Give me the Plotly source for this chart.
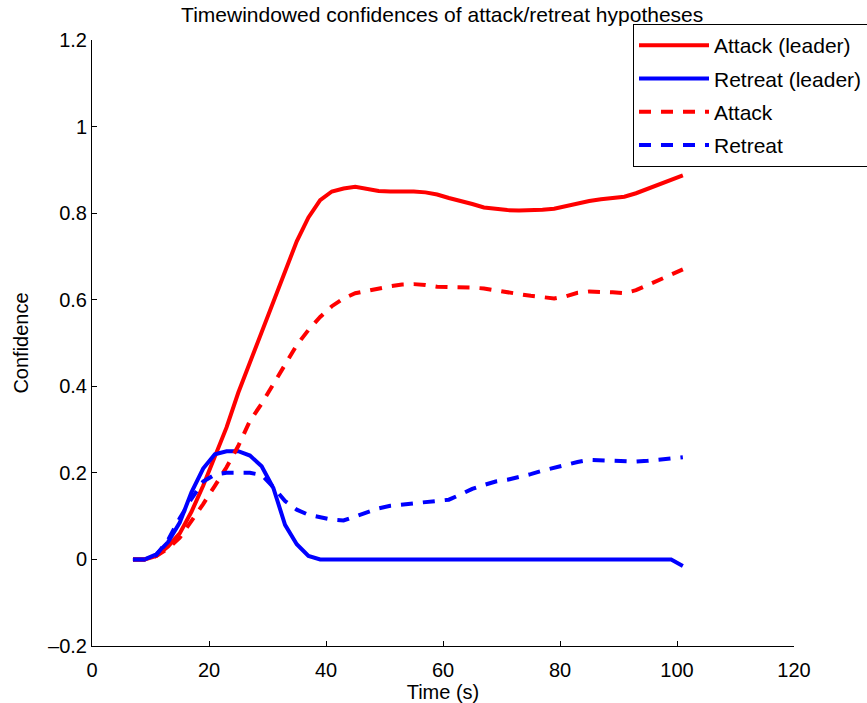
import plotly.graph_objects as go

time_s = [7, 9, 11, 13, 15, 17, 19, 21, 23, 25, 27, 29, 31, 33, 35, 37, 39, 41, 43, 45,
          47, 49, 51, 53, 55, 57, 59, 61, 63, 65, 67, 69, 71, 73, 75, 77, 79, 81, 83, 85,
          87, 89, 91, 93, 95, 97, 99, 101]

attack_leader = [0, 0, 0.008, 0.03, 0.06, 0.11, 0.17, 0.235, 0.305, 0.385, 0.455, 0.523,
                 0.593, 0.66, 0.735, 0.79, 0.83, 0.85, 0.857, 0.861, 0.857, 0.851, 0.85,
                 0.851, 0.85, 0.848, 0.843, 0.835, 0.829, 0.821, 0.813, 0.809, 0.807,
                 0.806, 0.806, 0.808, 0.81, 0.816, 0.824, 0.828, 0.832, 0.835, 0.838,
                 0.846, 0.856, 0.866, 0.878, 0.887]

retreat_leader = [0, 0, 0.012, 0.04, 0.085, 0.155, 0.21, 0.243, 0.25, 0.25, 0.24, 0.215,
                  0.165, 0.08, 0.035, 0.008, 0, 0, 0, 0, 0, 0, 0, 0, 0, 0, 0, 0, 0, 0, 0,
                  0, 0, 0, 0, 0, 0, 0, 0, 0, 0, 0, 0, 0, 0, 0, 0, -0.015]

attack = [0, 0, 0.008, 0.025, 0.05, 0.088, 0.128, 0.17, 0.213, 0.262, 0.32, 0.36, 0.406,
          0.45, 0.495, 0.53, 0.56, 0.585, 0.603, 0.615, 0.621, 0.627, 0.631, 0.635, 0.636,
          0.634, 0.63, 0.629, 0.629, 0.628, 0.626, 0.621, 0.617, 0.613, 0.609, 0.605,
          0.603, 0.608, 0.616, 0.619, 0.619, 0.617, 0.615, 0.622, 0.634, 0.646, 0.659, 0.67]

retreat = [0, 0, 0.01, 0.045, 0.095, 0.14, 0.18, 0.196, 0.2, 0.2, 0.2, 0.195, 0.167, 0.135,
           0.115, 0.103, 0.097, 0.092, 0.09, 0.099, 0.11, 0.118, 0.124, 0.127, 0.129, 0.132,
           0.135, 0.138, 0.15, 0.163, 0.172, 0.18, 0.184, 0.19, 0.197, 0.205, 0.212, 0.219,
           0.225, 0.23, 0.229, 0.226, 0.225, 0.226, 0.228, 0.231, 0.234, 0.236]

x_tick_vals = [0, 20, 40, 60, 80, 100, 120]
x_tick_labels = ["0", "20", "40", "60", "80", "100", "120"]
y_tick_vals = [-0.2, 0, 0.2, 0.4, 0.6, 0.8, 1, 1.2]
y_tick_labels = ["\u20130.2", "0", "0.2", "0.4", "0.6", "0.8", "1", "1.2"]

FONT = "Liberation Sans, Arial, Helvetica, sans-serif"
DASH = "12px,10px"

fig = go.Figure()
series = [
    ("Attack (leader)", attack_leader, "#ff0000", "solid"),
    ("Retreat (leader)", retreat_leader, "#0000ff", "solid"),
    ("Attack", attack, "#ff0000", DASH),
    ("Retreat", retreat, "#0000ff", DASH),
]
for i, (name, vals, color, dash) in enumerate(series):
    fig.add_trace(go.Scatter(
        x=time_s, y=vals, mode="lines", name=name, legendgroup=str(i),
        line=dict(color=color, width=4, dash=dash),
    ))

tick_font = dict(family=FONT, size=20, color="black")
title_font = dict(family=FONT, size=20, color="black")

fig.update_layout(
    width=867, height=703,
    margin=dict(l=92, r=73, t=40, b=57, autoexpand=False),
    paper_bgcolor="white", plot_bgcolor="white",
    font=dict(family=FONT, size=20, color="black"),
    title=dict(text="Timewindowed confidences of attack/retreat hypotheses",
               x=0.51, xanchor="center", y=1 - 15 / 703, yanchor="middle",
               font=dict(family=FONT, size=21, color="black")),
    showlegend=True,
    legend=dict(xref="container", yref="container",
                x=633 / 867, y=1 - 24 / 703, xanchor="left", yanchor="top",
                bgcolor="white", bordercolor="black", borderwidth=1,
                itemwidth=70, tracegroupgap=3,
                font=dict(family=FONT, size=21, color="black")),
    xaxis=dict(range=[0, 120], tickvals=x_tick_vals, ticktext=x_tick_labels,
               showgrid=False, zeroline=False, showline=True, linecolor="black",
               linewidth=1, ticks="inside", ticklen=5, tickcolor="black",
               tickfont=tick_font, ticklabelstandoff=6, automargin=False,
               title=dict(text="Time (s)", font=title_font, standoff=6)),
    yaxis=dict(range=[-0.2, 1.2], tickvals=y_tick_vals, ticktext=y_tick_labels,
               showgrid=False, zeroline=False, showline=True, linecolor="black",
               linewidth=1, ticks="inside", ticklen=5, tickcolor="black",
               tickfont=tick_font, automargin=False,
               title=dict(text="Confidence", font=title_font, standoff=14)),
)

fig.write_html("out.html")
